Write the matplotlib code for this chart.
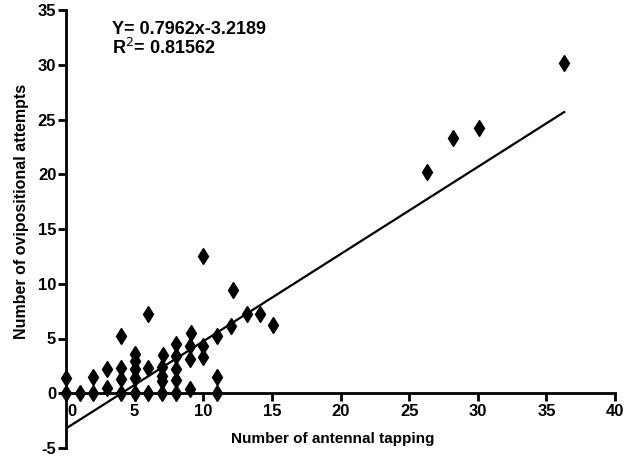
import matplotlib
matplotlib.use('Agg')
import matplotlib.pyplot as plt
import matplotlib.transforms as mtransforms
import numpy as np

plt.rcParams['font.family'] = ['Liberation Sans', 'DejaVu Sans']
plt.rcParams['axes.unicode_minus'] = False

# antennal tapping vs ovipositional attempts
tapping = [0, 0, 1, 2, 2, 3, 3,
           4, 4, 4, 4, 5, 5, 5, 5, 5.05,
           6, 6, 6, 7, 7, 7, 7, 7.05,
           8, 8, 8, 8, 8,
           9, 9, 9, 9.1, 10, 10, 10, 11, 11, 11,
           12, 12.2, 13.2, 14.1, 15.1,
           26.3, 28.2, 30.1, 36.3]
attempts = [0, 1.4, 0, 0, 1.5, 0.5, 2.2,
            0, 1.3, 2.3, 5.2, 0, 1.4, 2.2, 2.9, 3.6,
            0, 2.3, 7.2, 0, 1.1, 1.6, 2.4, 3.5,
            0, 1.2, 2.2, 3.4, 4.5,
            0.4, 3.1, 4.3, 5.5, 3.3, 4.3, 12.5, 0, 1.5, 5.2,
            6.1, 9.4, 7.2, 7.2, 6.2,
            20.2, 23.3, 24.2, 30.2]

slope = 0.7962
intercept = -3.2189
r2 = 0.81562

fig = plt.figure(figsize=(6.31, 4.59), dpi=100)
ax = fig.add_axes([66/631, 11/459, 549/631, 438/459])

ax.plot(tapping, attempts, linestyle='none', marker='d', markersize=8.5,
        color='black', clip_on=False, zorder=3)

xfit = np.array([0, max(tapping)])
ax.plot(xfit, slope*xfit + intercept, color='black', lw=1.6)

ax.set_xlim(0, 40)
ax.set_ylim(-5, 35)
ax.spines['top'].set_visible(False)
ax.spines['right'].set_visible(False)
ax.spines['bottom'].set_position(('data', 0))
ax.spines['left'].set_linewidth(2)
ax.spines['bottom'].set_linewidth(2)

ax.set_xticks(range(0, 41, 5))
ax.set_yticks(range(-5, 36, 5))
ax.tick_params(width=2, length=6, labelsize=12, pad=2)
ax.tick_params(axis='y', pad=1)
for lab in ax.get_xticklabels() + ax.get_yticklabels():
    lab.set_fontweight('bold')
# the "0" on the x axis sits a little right of its tick
first = ax.get_xticklabels()[0]
first.set_transform(first.get_transform() +
                    mtransforms.ScaledTranslation(6/100, 0, fig.dpi_scale_trans))

ax.set_xlabel('Number of antennal tapping', fontsize=11, fontweight='bold')
ax.xaxis.set_label_coords(0.485, 0.036)
ax.set_ylabel('Number of ovipositional attempts', fontsize=11.5, fontweight='bold')
ax.yaxis.set_label_coords(-0.067, 0.54)

ax.text(0.083, 0.955, 'Y= %.4fx%.4f' % (slope, intercept), transform=ax.transAxes,
        fontsize=13, fontweight='bold', va='center')
ax.text(0.083, 0.913, 'R$^2$= %.5f' % r2, transform=ax.transAxes,
        fontsize=13, fontweight='bold', va='center')

fig.savefig('out.png', dpi=100)
